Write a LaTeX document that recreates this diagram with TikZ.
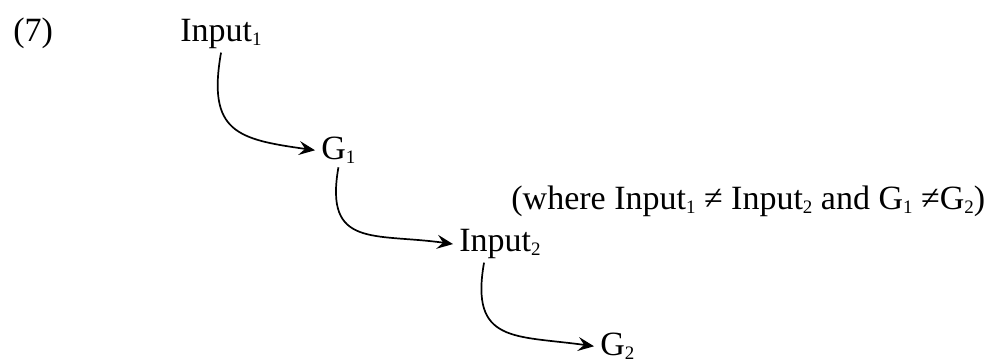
\documentclass[tikz,border=0pt]{standalone}
\usepackage{fontspec}
\setmainfont{Liberation Serif}
\usepackage{tikz}
\usetikzlibrary{arrows.meta}
\newcommand{\stepsub}[1]{\raisebox{-0.25ex}{\fontsize{9.5}{10}\selectfont #1}}
\tikzset{
  step label/.style={anchor=base west,inner sep=1.5pt,font=\fontsize{17}{20}\selectfont},
  flow/.style={-{Stealth[length=8pt,width=7pt,inset=3pt]},line width=0.85pt,shorten >=1.5pt},
}

\begin{document}
\begin{tikzpicture}[x=0.5pt,y=0.5pt]
  \useasboundingbox (0,0) rectangle (990,363);
  \node[step label] (num) at (10,321) {(7)};
  \node[step label] (inA) at (177,321) {Input\stepsub{1}};
  \node[step label] (gA) at (318,203) {G\stepsub{1}};
  \node[step label] (inB) at (456,111) {Input\stepsub{2}};
  \node[step label] (gB) at (597,7) {G\stepsub{2}};
  \node[step label] (cond) at (508,153) {(where Input\stepsub{1} ≠ Input\stepsub{2} and G\stepsub{1} ≠G\stepsub{2})};
  % arrows
  \draw[flow] (inA.south) to[out=-100,in=172,looseness=1.5] (gA.west);
  \draw[flow] (gA.south) to[out=-100,in=172,looseness=1.5] (inB.west);
  \draw[flow] ([xshift=-8pt]inB.south) to[out=-100,in=172,looseness=1.5] (gB.west);
\end{tikzpicture}
\end{document}
